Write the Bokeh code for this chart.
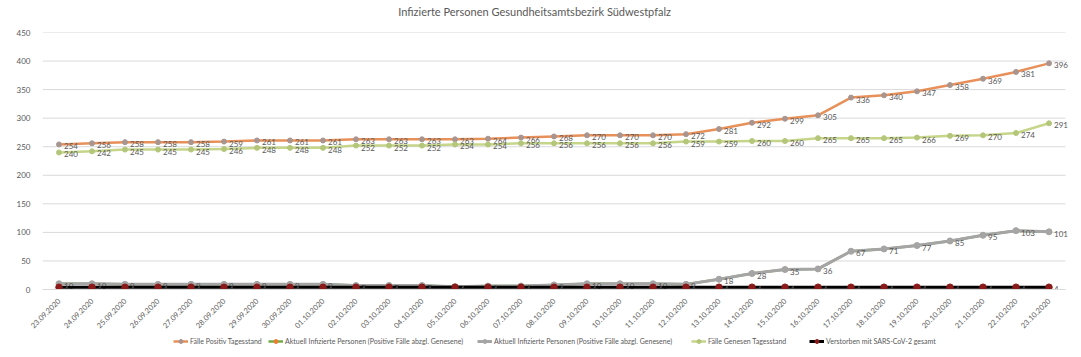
import math
from bokeh.plotting import figure
from bokeh.layouts import column
from bokeh.models import ColumnDataSource, Range1d, FixedTicker, Legend, LegendItem, Label
from bokeh.embed import file_html
from bokeh.resources import INLINE
from bokeh.core.properties import value

dates = ["23.09.2020", "24.09.2020", "25.09.2020", "26.09.2020", "27.09.2020", "28.09.2020",
         "29.09.2020", "30.09.2020", "01.10.2020", "02.10.2020", "03.10.2020", "04.10.2020",
         "05.10.2020", "06.10.2020", "07.10.2020", "08.10.2020", "09.10.2020", "10.10.2020",
         "11.10.2020", "12.10.2020", "13.10.2020", "14.10.2020", "15.10.2020", "16.10.2020",
         "17.10.2020", "18.10.2020", "19.10.2020", "20.10.2020", "21.10.2020", "22.10.2020",
         "23.10.2020"]
positiv = [254, 256, 258, 258, 258, 259, 261, 261, 261, 263, 263, 263, 263, 264, 266, 268,
           270, 270, 270, 272, 281, 292, 299, 305, 336, 340, 347, 358, 369, 381, 396]
aktuell_gruen = [10, 10, 9, 9, 9, 9, 9, 9, 9, 7, 7, 7, 5, 6, 6, 8,
                 10, 10, 10, 9, 18, 28, 35, 36, 67, 71, 77, 85, 95, 103, 101]
aktuell_grau = [10, 10, 9, 9, 9, 9, 9, 9, 9, 7, 7, 7, 5, 6, 6, 8,
                10, 10, 10, 9, 18, 28, 35, 36, 67, 71, 77, 85, 95, 103, 101]
genesen = [240, 242, 245, 245, 245, 246, 248, 248, 248, 252, 252, 252, 254, 254, 256, 256,
           256, 256, 256, 259, 259, 260, 260, 265, 265, 265, 266, 269, 270, 274, 291]
verstorben = [4, 4, 4, 4, 4, 4, 4, 4, 4, 4, 4, 4, 4, 4, 4, 4,
              4, 4, 4, 4, 4, 4, 4, 4, 4, 4, 4, 4, 4, 4, 4]
y_ticks = [0, 50, 100, 150, 200, 250, 300, 350, 400, 450]

labels = ["Fälle Positiv Tagesstand",
          "Aktuell Infizierte Personen (Positive Fälle abzgl. Genesene)",
          "Aktuell Infizierte Personen (Positive Fälle abzgl. Genesene)",
          "Fälle Genesen Tagesstand",
          "Verstorben mit SARS-CoV-2 gesamt"]
title_text = "Infizierte Personen Gesundheitsamtsbezirk Südwestpfalz"

FONT = "Lato"
TXT = "#595959"
W = 1081
idx = list(range(len(dates)))
n = len(dates)

# ---- title strip ----
ts = figure(x_range=Range1d(0, W), y_range=Range1d(0, 26), width=W, height=26,
            output_backend="svg", toolbar_location=None, x_axis_type=None, y_axis_type=None,
            min_border_left=0, min_border_right=0, min_border_top=0, min_border_bottom=0)
ts.outline_line_color = None
ts.xgrid.grid_line_color = None
ts.ygrid.grid_line_color = None
ts.add_layout(Label(x=512, y=15, text=title_text, text_align="center",
                    text_baseline="middle", text_font=FONT, text_font_size="11px",
                    text_color=TXT))

# ---- main chart ----
p = figure(x_range=Range1d(-0.5, n - 0.5 + 16 / 33), y_range=Range1d(0, 450),
           width=W, height=307, output_backend="svg", toolbar_location=None,
           min_border_left=42, min_border_right=0, min_border_top=6, min_border_bottom=42)
p.outline_line_color = None
p.background_fill_color = "white"
p.border_fill_color = "white"
p.xgrid.grid_line_color = None
p.ygrid.grid_line_color = None

p.segment(x0=[-0.5] * len(y_ticks), x1=[n - 0.5] * len(y_ticks), y0=y_ticks, y1=y_ticks,
          line_color="#D9D9D9", line_width=1)

p.yaxis.ticker = FixedTicker(ticks=y_ticks)
p.yaxis.axis_line_color = None
p.yaxis.major_tick_line_color = None
p.yaxis.minor_tick_line_color = None
p.yaxis.major_label_text_font = FONT
p.yaxis.major_label_text_font_size = "8px"
p.yaxis.major_label_text_color = TXT
p.yaxis.major_label_standoff = 6

p.xaxis.ticker = FixedTicker(ticks=idx)
p.xaxis.major_label_overrides = {i: d for i, d in zip(idx, dates)}
p.xaxis.bounds = (-0.5, n - 0.5)
p.xaxis.axis_line_color = "#D9D9D9"
p.xaxis.major_tick_line_color = None
p.xaxis.minor_tick_line_color = None
p.xaxis.major_label_orientation = math.pi / 4
p.xaxis.major_label_text_font = FONT
p.xaxis.major_label_text_font_size = "7.5px"
p.xaxis.major_label_text_color = TXT
p.xaxis.major_label_standoff = 4

# ---- legend strip ----
lg = figure(x_range=Range1d(-0.5, n), y_range=Range1d(1000, 1100), width=W, height=24,
            output_backend="svg", toolbar_location=None, x_axis_type=None, y_axis_type=None,
            min_border_left=0, min_border_right=0, min_border_top=0, min_border_bottom=0)
lg.outline_line_color = None
lg.xgrid.grid_line_color = None
lg.ygrid.grid_line_color = None
lg.background_fill_color = "white"
lg.border_fill_color = "white"

series = [
    (positiv, "#E8905A", 2.5, "#A89590", 5, True),
    (aktuell_gruen, "#70AD47", 2.5, "#ED7D31", 5, False),
    (aktuell_grau, "#A5A5A5", 3.0, "#A5A5A5", 6, True),
    (genesen, "#C5D58A", 2.5, "#B4C67A", 5, True),
    (verstorben, "#000000", 3.0, "#8B1A1A", 6.5, True),
]
legend_x = [131, 226, 435, 649, 767]

for (vals, lc, lw, mc, ms, show_lbl), lab, lx in zip(series, labels, legend_x):
    src = ColumnDataSource(dict(x=idx, y=vals, t=[str(v) for v in vals]))
    p.line("x", "y", source=src, line_color=lc, line_width=lw)
    p.scatter("x", "y", source=src, size=ms, fill_color=mc, line_color=mc)
    if show_lbl:
        p.text("x", "y", text="t", source=src, x_offset=5, y_offset=2,
               text_baseline="middle", text_align="left", text_font=value(FONT),
               text_font_size="8px", text_color=TXT)
    l1 = lg.line("x", "y", source=src, line_color=lc, line_width=lw)
    l2 = lg.scatter("x", "y", source=src, size=ms, fill_color=mc, line_color=mc)
    leg = Legend(items=[LegendItem(label=lab, renderers=[l1, l2])],
                 orientation="horizontal", location=(lx, 11),
                 label_text_font=FONT, label_text_font_size="7px", label_text_color=TXT,
                 glyph_width=15, glyph_height=10, spacing=0, label_standoff=2,
                 label_height=10, padding=0, margin=0, border_line_color=None,
                 background_fill_alpha=0)
    lg.add_layout(leg, "center")

layout = column(ts, p, lg, spacing=0)
open("out.html", "w").write(file_html(layout, INLINE))
